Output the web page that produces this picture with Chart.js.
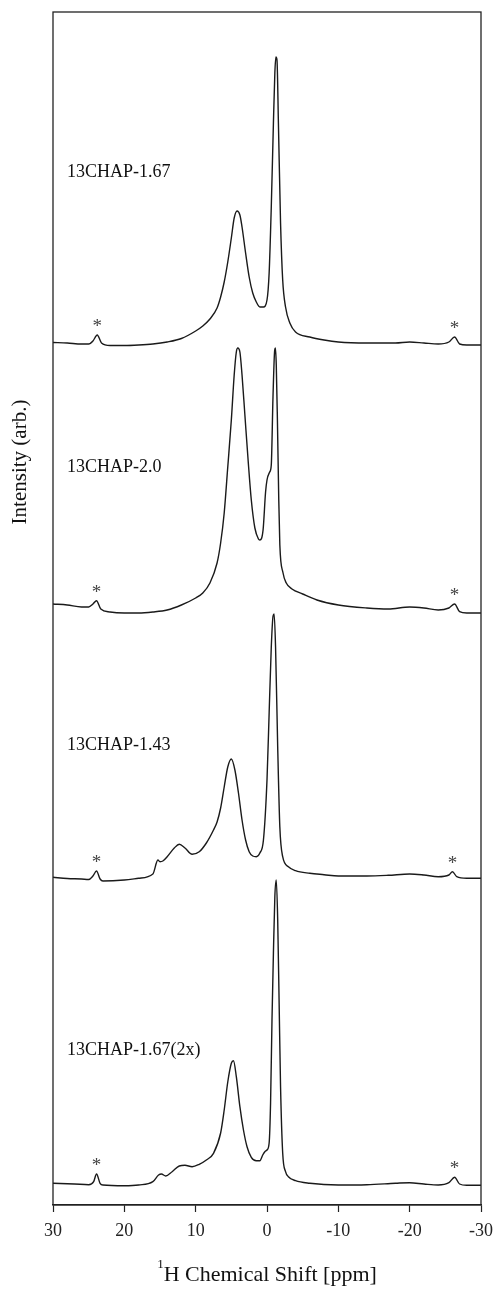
<!DOCTYPE html>
<html><head><meta charset="utf-8">
<script src="https://cdn.jsdelivr.net/npm/chart.js@4.4.1/dist/chart.umd.min.js"></script>
<style>html,body{margin:0;padding:0;background:#fff}#wrap{width:495px;height:1289px;position:relative}</style>
</head><body><div id="wrap"><canvas id="c" width="495" height="1289"></canvas></div>
<script>
// ---- data (x = 1H chemical shift in ppm, y = stacked intensity, arb. units) ----
const sampleNames = ["13CHAP-1.67", "13CHAP-2.0", "13CHAP-1.43", "13CHAP-1.67(2x)"];

const ppm1 = [30,28,26,25,24.4,23.8,23.2,22,20,18,16,14,12,10,9,8,7,6.5,6,5.5,5,4.6,4.2,3.8,3.5,3,2.5,2,1.5,1,0.5,0,-0.3,-0.6,-0.9,-1.1,-1.25,-1.4,-1.6,-1.9,-2.2,-2.6,-3.2,-4,-6,-8,-10,-14,-18,-20,-22,-24,-25.5,-26.3,-27,-28,-30];
const int1 = [862.5,862,861,861,864,870,862,859.5,859.5,860,861,863,866.5,874,879,886,897,908,923,943,967,987,994,990,978,952,928,912,903,898,898,905,932,998,1082,1132,1148,1145,1082,982,925,898,882,873,868,865,863,862,862,863,862,861,863,868,861,860,860];

const ppm2 = [30,28,26,25,24.4,23.9,23.3,22,20,18,16,14,12,10,9,8,7,6.5,6,5.5,5,4.6,4.3,4.1,3.8,3.5,3.1,2.65,2.2,1.7,1.2,1.0,0.55,0.2,0,-0.38,-0.6,-0.84,-1.08,-1.18,-1.3,-1.46,-1.65,-1.8,-2.25,-2.7,-3.5,-5,-7,-10,-14,-17,-20,-22,-24,-25.5,-26.3,-27,-28,-30];
const int2 = [601,600,598,598,601,604.3,596,593,592,592,593,595,600,607,612,622,642,662,692,738,785,830,853,857,853,830,790,745,705,677,666,665,675,713,725,733,740,808,855,857,840,785,705,660,632,622,616,611,605,600,597,596,598,597,595,597,601,593.3,592,592];

const ppm3 = [30,28,26,25,24.4,23.9,23.4,23,20,18,16,15.3,15.0,14.6,14.0,13,12.3,11.5,10.5,9.5,8.5,7.5,7,6.5,6,5.5,5,4.5,4,3.5,3,2.5,2,1.5,1,0.5,0,-0.3,-0.6,-0.85,-1.0,-1.2,-1.5,-1.8,-2.2,-3,-4,-6,-8,-10,-14,-17,-20,-22,-24,-25.5,-26,-26.6,-28,-30];
const int3 = [327.7,326.5,326,325.5,329,334,326,324,325,326.7,331,345,343.3,344,348.3,357,360.7,357,350.7,353.3,362,375,383,397,418,438,446,435,412,385,365,353.3,349,348.3,352,365,425,492,558,589,591,558,458,378,348.3,338.3,334.3,331.7,330.3,329,329,329.7,331,330,328.3,330,333.3,328.3,326.7,326.7];

const ppm4 = [30,27,25,24.3,23.9,23.4,23,20,18,16,15.2,14.8,14.2,13.3,12.3,11.5,10.5,9.5,8.5,7.5,6.5,6,5.5,5,4.7,4.3,3.8,3.3,2.8,2.2,1.5,1.0,0.6,0.3,0,-0.3,-0.5,-0.7,-0.9,-1.1,-1.3,-1.5,-1.7,-1.9,-2.2,-2.6,-3,-4,-6,-10,-14,-18,-20,-22,-24,-25.5,-26.3,-27,-28,-30];
const int4 = [21.7,21,20.3,23.3,31,21.7,20,19.3,20,23.3,30,31,29,33.3,39,39.7,38.3,40.7,45,51.7,72,95,123,141.7,144.3,128.3,98.3,75,58.3,47.7,44.3,44.3,50,53.3,55,62,102,185,252,308.3,325,285,202,118.3,52,33.3,28.3,24.3,21.7,20,20.3,21.7,22.3,21,20,22.3,27.7,21,19.7,19.7];

const xTickValues = [30,20,10,0,-10,-20,-30];
const sidebandPpm = [23.9, -26.3];   // spinning sidebands marked with *

// ---- build datasets ----
const ppmSets = [ppm1, ppm2, ppm3, ppm4];
const intSets = [int1, int2, int3, int4];
const datasets = ppmSets.map((p, i) => ({
  label: sampleNames[i],
  data: p.map((x, j) => ({x: x, y: intSets[i][j]})),
  borderColor: '#1a1a1a',
  borderWidth: 1.4,
  pointRadius: 0,
  fill: false,
  cubicInterpolationMode: 'monotone'
}));

const SERIF = '"Liberation Serif", "Times New Roman", serif';

const decor = {
  id: 'decor',
  afterDraw(chart) {
    const ctx = chart.ctx, a = chart.chartArea;
    const xs = chart.scales.x, ys = chart.scales.y;
    ctx.save();
    // frame
    ctx.strokeStyle = '#222';
    ctx.lineWidth = 1.3;
    ctx.strokeRect(a.left, a.top, a.right - a.left, a.bottom - a.top);
    // sample labels
    ctx.fillStyle = '#111';
    ctx.font = '18px ' + SERIF;
    ctx.textAlign = 'left';
    ctx.textBaseline = 'alphabetic';
    const labelBase = [177, 471.5, 750, 1054.5];
    sampleNames.forEach((n, i) => ctx.fillText(n, a.left + 14, labelBase[i]));
    // sideband asterisks
    ctx.fillStyle = '#444';
    ctx.font = '19px ' + SERIF;
    ctx.textAlign = 'center';
    chart.data.datasets.forEach(ds => {
      sidebandPpm.forEach(sb => {
        let best = null;
        ds.data.forEach(pt => {
          if (Math.abs(pt.x - sb) < 0.7 && (!best || pt.y > best.y)) best = pt;
        });
        if (best) {
          const px = xs.getPixelForValue(best.x);
          const py = ys.getPixelForValue(best.y);
          ctx.fillText('*', px, py - 3);
        }
      });
    });
    // y title
    ctx.fillStyle = '#111';
    ctx.font = '21px ' + SERIF;
    ctx.textAlign = 'center';
    ctx.textBaseline = 'middle';
    ctx.save();
    ctx.translate(20, 462);
    ctx.rotate(-Math.PI / 2);
    ctx.fillText('Intensity (arb.)', 0, 0);
    ctx.restore();
    // x title with superscript
    const cx = (a.left + a.right) / 2;
    ctx.textBaseline = 'alphabetic';
    ctx.font = '22px ' + SERIF;
    const main = 'H Chemical Shift [ppm]';
    const mw = ctx.measureText(main).width;
    ctx.font = '13px ' + SERIF;
    const sw = ctx.measureText('1').width;
    const x0 = cx - (mw + sw) / 2;
    ctx.textAlign = 'left';
    ctx.fillText('1', x0, 1268);
    ctx.font = '22px ' + SERIF;
    ctx.fillText(main, x0 + sw, 1281);
    ctx.restore();
  }
};

new Chart(document.getElementById('c'), {
  type: 'line',
  data: { datasets: datasets },
  options: {
    responsive: false,
    devicePixelRatio: 1,
    animation: false,
    events: [],
    layout: { padding: { left: 53, right: 14, top: 12, bottom: 0 } },
    plugins: { legend: { display: false }, tooltip: { enabled: false } },
    scales: {
      x: {
        type: 'linear',
        min: -30, max: 30,
        reverse: true,
        afterBuildTicks: s => { s.ticks = xTickValues.map(v => ({value: v})); },
        afterFit: s => { s.height = 84; s.paddingLeft = 0; s.paddingRight = 0; },
        ticks: {
          color: '#222',
          font: { family: SERIF, size: 18 },
          padding: 8,
          maxRotation: 0,
          callback: v => String(v)
        },
        grid: { display: true, drawOnChartArea: false, drawTicks: true, tickLength: 7, tickWidth: 1.2, tickColor: '#222' },
        border: { display: true, color: '#222', width: 1.3 }
      },
      y: {
        type: 'linear',
        display: false,
        min: 0, max: 1193
      }
    }
  },
  plugins: [decor]
});
</script></body></html>
